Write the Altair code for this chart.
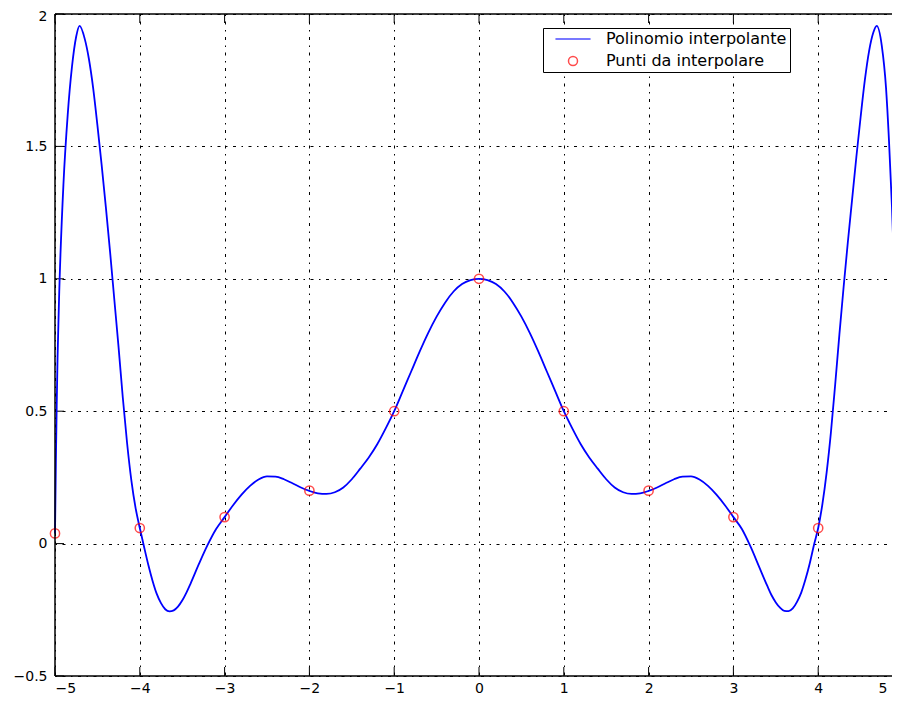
import altair as alt
import pandas as pd

# Polynomial curve
curve_x = [-5.00, -4.99, -4.98, -4.97, -4.95, -4.90, -4.85, -4.80, -4.75, -4.71,
           -4.65, -4.60, -4.55, -4.50, -4.45, -4.40, -4.35, -4.30, -4.25, -4.20,
           -4.15, -4.10, -4.05, -4.00, -3.95, -3.90, -3.85, -3.80, -3.75, -3.70,
           -3.65, -3.60, -3.55, -3.50, -3.45, -3.40, -3.30, -3.20, -3.10, -3.00,
           -2.90, -2.80, -2.70, -2.60, -2.50, -2.40, -2.30, -2.20, -2.10, -2.00,
           -1.90, -1.80, -1.70, -1.60, -1.50, -1.40, -1.30, -1.20, -1.10, -1.00,
           -0.90, -0.80, -0.70, -0.60, -0.50, -0.40, -0.30, -0.20, -0.10, 0.00,
           0.10, 0.20, 0.30, 0.40, 0.50, 0.60, 0.70, 0.80, 0.90, 1.00,
           1.10, 1.20, 1.30, 1.40, 1.50, 1.60, 1.70, 1.80, 1.90, 2.00,
           2.10, 2.20, 2.30, 2.40, 2.50, 2.60, 2.70, 2.80, 2.90, 3.00,
           3.10, 3.20, 3.30, 3.40, 3.45, 3.50, 3.55, 3.60, 3.65, 3.70,
           3.75, 3.80, 3.85, 3.90, 3.95, 4.00, 4.05, 4.10, 4.15, 4.20,
           4.25, 4.30, 4.35, 4.40, 4.45, 4.50, 4.55, 4.60, 4.65, 4.69,
           4.75, 4.80, 4.835, 4.87, 4.90, 4.93, 4.95, 5.00]
curve_y = [0.038, 0.30, 0.52, 0.70, 0.95, 1.36, 1.62, 1.80, 1.915, 1.955,
           1.907, 1.83, 1.72, 1.58, 1.43, 1.27, 1.10, 0.92, 0.74, 0.55,
           0.38, 0.24, 0.135, 0.059, -0.012, -0.08, -0.14, -0.19, -0.225, -0.248,
           -0.256, -0.252, -0.238, -0.215, -0.185, -0.15, -0.075, -0.005, 0.055, 0.10,
           0.145, 0.185, 0.218, 0.242, 0.254, 0.253, 0.243, 0.228, 0.212, 0.199,
           0.19, 0.188, 0.194, 0.212, 0.243, 0.283, 0.325, 0.375, 0.435, 0.50,
           0.575, 0.65, 0.725, 0.795, 0.857, 0.91, 0.952, 0.98, 0.995, 1.00,
           0.995, 0.98, 0.952, 0.91, 0.857, 0.795, 0.725, 0.65, 0.575, 0.50,
           0.435, 0.375, 0.325, 0.283, 0.243, 0.212, 0.194, 0.188, 0.19, 0.199,
           0.212, 0.228, 0.243, 0.253, 0.254, 0.242, 0.218, 0.185, 0.145, 0.10,
           0.055, -0.01, -0.085, -0.16, -0.195, -0.222, -0.242, -0.254, -0.255, -0.245,
           -0.22, -0.185, -0.135, -0.075, -0.005, 0.059, 0.15, 0.27, 0.42, 0.60,
           0.79, 0.97, 1.14, 1.30, 1.46, 1.61, 1.75, 1.86, 1.93, 1.955,
           1.88, 1.72, 1.52, 1.27, 1.00, 0.64, 0.32, 0.038]

# Interpolation nodes
node_x = [-5, -4, -3, -2, -1, 0, 1, 2, 3, 4, 5]
node_y = [0.0385, 0.0588, 0.1, 0.2, 0.5, 1.0, 0.5, 0.2, 0.1, 0.0588, 0.0385]

x_ticks = [-5, -4, -3, -2, -1, 0, 1, 2, 3, 4, 5]
y_ticks = [-0.5, 0, 0.5, 1, 1.5, 2]

series = ["Polinomio interpolante", "Punti da interpolare"]

FULL_W = 848      # full plot width (right edge lies just past the window)
W, H = 837, 662   # visible view size
TL = 9            # inward tick length

curve_df = pd.DataFrame({"x": curve_x, "y": curve_y, "series": series[0]})
node_df = pd.DataFrame({"x": node_x, "y": node_y, "series": series[1]})
xt_df = pd.DataFrame({"t": x_ticks})
yt_df = pd.DataFrame({"t": y_ticks})
one = pd.DataFrame({"k": [0]})

xscale = alt.Scale(domain=[-5, 5], range=[0, FULL_W], nice=False, zero=False)
yscale = alt.Scale(domain=[-0.5, 2], nice=False, zero=False)

xaxis = alt.Axis(values=x_ticks, format="~g", grid=True, ticks=False, domain=False,
                 labelPadding=5, title=None,
                 labelOffset={"condition": {"test": "datum.value == 5", "value": -16},
                              "value": 0})
yaxis = alt.Axis(values=y_ticks, format="~g", grid=True, ticks=False, domain=False,
                 labelPadding=8, title=None,
                 labelOffset={"condition": {"test": "datum.value == 2", "value": 2},
                              "value": 0})

color_scale = alt.Scale(domain=series, range=["#0000ff", "#ff0000"])
shape_scale = alt.Scale(domain=series, range=["M-3.9,0H3.9", "circle"])
legend = alt.Legend(title=None, orient="none", legendX=488, legendY=14)

line = alt.Chart(curve_df).mark_line(strokeWidth=1.8, interpolate="monotone").encode(
    x=alt.X("x:Q", scale=xscale, axis=xaxis),
    y=alt.Y("y:Q", scale=yscale, axis=yaxis),
    color=alt.Color("series:N", scale=color_scale, legend=legend),
)

points = alt.Chart(node_df).mark_point(filled=False, strokeWidth=1.5, size=85).encode(
    x=alt.X("x:Q", scale=xscale),
    y=alt.Y("y:Q", scale=yscale),
    color=alt.Color("series:N", scale=color_scale, legend=legend),
    shape=alt.Shape("series:N", scale=shape_scale, legend=legend),
)

rule_kw = dict(color="black", strokeWidth=1)
tick_bottom = alt.Chart(xt_df).mark_rule(**rule_kw).encode(
    x=alt.X("t:Q", scale=xscale), y=alt.value(H), y2=alt.value(H - TL))
tick_top = alt.Chart(xt_df).mark_rule(**rule_kw).encode(
    x=alt.X("t:Q", scale=xscale), y=alt.value(0), y2=alt.value(TL))
tick_left = alt.Chart(yt_df).mark_rule(**rule_kw).encode(
    y=alt.Y("t:Q", scale=yscale), x=alt.value(0), x2=alt.value(TL))
tick_right = alt.Chart(yt_df).mark_rule(**rule_kw).encode(
    y=alt.Y("t:Q", scale=yscale), x=alt.value(FULL_W - TL), x2=alt.value(FULL_W))

frame_kw = dict(color="black", strokeWidth=1.5)
frame_top = alt.Chart(one).mark_rule(**frame_kw).encode(
    x=alt.value(0), x2=alt.value(FULL_W), y=alt.value(0))
frame_bottom = alt.Chart(one).mark_rule(**frame_kw).encode(
    x=alt.value(0), x2=alt.value(FULL_W), y=alt.value(H))
frame_left = alt.Chart(one).mark_rule(**frame_kw).encode(
    x=alt.value(0), y=alt.value(0), y2=alt.value(H))
frame_right = alt.Chart(one).mark_rule(**frame_kw).encode(
    x=alt.value(FULL_W), y=alt.value(0), y2=alt.value(H))

chart = alt.layer(
    tick_bottom, tick_top, tick_left, tick_right,
    line, points,
    frame_top, frame_bottom, frame_left, frame_right,
).properties(
    width=W, height=H,
    autosize=alt.AutoSizeParams(type="none"),
    padding={"left": 47, "top": 6, "right": 0, "bottom": 19},
).configure_view(
    strokeWidth=0
).configure_axis(
    gridColor="black", gridDash=[1.5, 5.5, 3, 5.5], gridWidth=1, gridOpacity=1,
    labelFont="DejaVu Sans", labelFontSize=14, labelColor="black",
).configure_legend(
    labelFont="DejaVu Sans", labelFontSize=16, labelColor="black", labelLimit=400,
    strokeColor="black", fillColor="white", padding=3, cornerRadius=0,
    symbolStrokeWidth=1.5, symbolSize=81, symbolOffset=19, labelOffset=25,
    rowPadding=6,
)

chart.save("out.html", embed_options={"renderer": "svg", "actions": False})
